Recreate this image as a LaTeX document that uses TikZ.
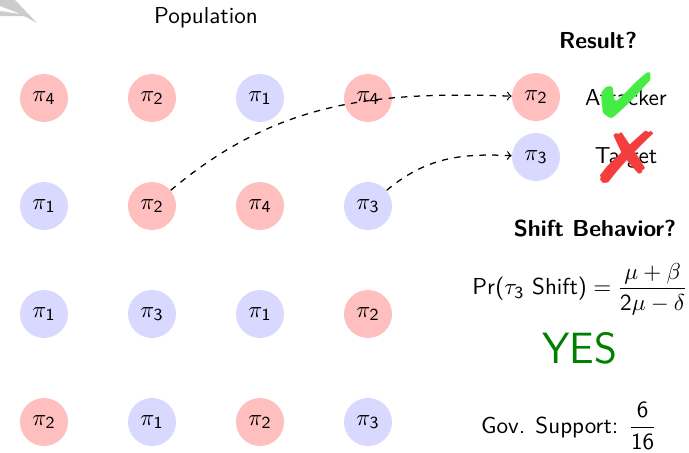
\documentclass[tikz,border=0pt,11pt]{standalone}
\usepackage{amsmath}
\usepackage{pifont}
\usepackage{graphicx}
\renewcommand{\familydefault}{\sfdefault}
\DeclareSymbolFont{operators}{OT1}{cmss}{m}{n}
\SetSymbolFont{operators}{bold}{OT1}{cmss}{bx}{n}
\definecolor{chkgreen}{RGB}{70,236,70}
\definecolor{crsred}{RGB}{244,62,62}
\definecolor{yesgreen}{RGB}{0,128,0}
\definecolor{arrowgray}{RGB}{204,204,204}
\tikzset{
  agent/.style={circle, minimum size=0.8cm, inner sep=0pt},
  redagent/.style={agent, fill=red!25},
  blueagent/.style={agent, fill=blue!15},
  conn/.style={->, dashed, semithick, black},
  headtext/.style={font=\bfseries},
}
\begin{document}
\begin{tikzpicture}[x=0.0166667cm, y=-0.0166667cm]
\useasboundingbox (0,0) rectangle (689,452);
% clipped gray arrow at top left
\fill[arrowgray] (0,0) -- (15,0) -- (37,23) -- (24,16) -- (0,16) -- (0,11) -- (21,14) -- (0,6) -- cycle;

\node (pop) at (206,18) {Population};

% grid
\node[redagent]  (g11) at (44,98)  {$\pi_4$};
\node[redagent]  (g12) at (152,98) {$\pi_2$};
\node[blueagent] (g13) at (260,98) {$\pi_1$};
\node[redagent]  (g14) at (368,98) {$\pi_4$};

\node[blueagent] (g21) at (44,206)  {$\pi_1$};
\node[redagent]  (g22) at (152,206) {$\pi_2$};
\node[redagent]  (g23) at (260,206) {$\pi_4$};
\node[blueagent] (g24) at (368,206) {$\pi_3$};

\node[blueagent] (g31) at (44,314)  {$\pi_1$};
\node[blueagent] (g32) at (152,314) {$\pi_3$};
\node[blueagent] (g33) at (260,314) {$\pi_1$};
\node[redagent]  (g34) at (368,314) {$\pi_2$};

\node[redagent]  (g41) at (44,422)  {$\pi_2$};
\node[blueagent] (g42) at (152,422) {$\pi_1$};
\node[redagent]  (g43) at (260,422) {$\pi_2$};
\node[blueagent] (g44) at (368,422) {$\pi_3$};

% result
\node[headtext] (res) at (598,40) {Result?};
\node[redagent]  (r1) at (536,97)  {$\pi_2$};
\node[blueagent] (r2) at (536,157) {$\pi_3$};
\node (att) at (626,98) {Attacker};
\node (tgt) at (626,158) {Target};
\node[text=chkgreen, font=\fontsize{30}{30}\selectfont] (chk) at (626,96) {\ding{52}};
\node[text=crsred, font=\fontsize{34}{34}\selectfont] (crs) at (627,157) {\scalebox{1.3}[1]{\ding{55}}};

\draw[conn] (g22) to[out=40, in=178] (r1);
\draw[conn] (g24) to[out=40, in=177] (r2);

% shift behaviour
\node[headtext] (sb) at (595,228) {Shift Behavior?};
\node (pr) at (580,289) {$\Pr(\tau_3\text{ Shift}) = \dfrac{\mu+\beta}{2\mu-\delta}$};
\node[text=yesgreen, font=\huge] (yes) at (580,348) {YES};
\node (gov) at (569,426) {Gov. Support: $\dfrac{6}{16}$};
\end{tikzpicture}
\end{document}
